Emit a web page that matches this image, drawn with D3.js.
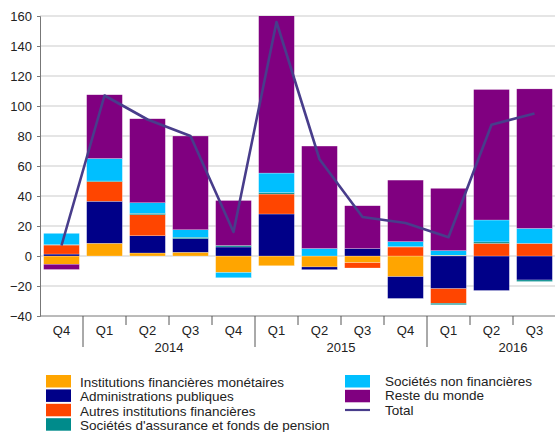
<!DOCTYPE html>
<html>
<head>
<meta charset="utf-8">
<script src="https://cdnjs.cloudflare.com/ajax/libs/d3/7.8.5/d3.min.js"></script>
<style>
  body { margin: 0; background: #fff; }
  text { font-family: "Liberation Sans", Arial, sans-serif; fill: #222; }
</style>
</head>
<body>
<svg width="555" height="432"></svg>
<script>
// quarters shown on the x axis (Q4 2013 .. Q3 2016)
var quarters = ["Q4", "Q1", "Q2", "Q3", "Q4", "Q1", "Q2", "Q3", "Q4", "Q1", "Q2", "Q3"];
var years = ["2014", "2015", "2016"];
var yearStart = [1, 5, 9]; // index of Q1 of each year

var seriesNames = [
    "Institutions financières monétaires",
    "Administrations publiques",
    "Autres institutions financières",
    "Sociétés d'assurance et fonds de pension",
    "Sociétés non financières",
    "Reste du monde"
];
var colors = ["#ffa500", "#000088", "#ff4500", "#008b8b", "#00bfff", "#800080"];

// values per series, one per quarter
var ifm  = [-5.5, 8.5, 2, 2.5, -11, -6.5, -7.3, -4.5, -13.8, 0.5, 0, 0];
var apu  = [1.3, 28, 11.5, 9, 6, 28, -1.8, 5, -14.5, -21.8, -23, -16];
var aif  = [6, 13, 14, 0, 0, 13.3, 0, -3.5, 6, -9.7, 8.4, 8.4];
var safp = [0.3, 0.5, 1, 1, 1, 1, 0, 0, 0.3, -1, 1, -1];
var snf  = [7.5, 15, 7, 5, -3.5, 13, 5, 0, 3.3, 3.1, 14.6, 10];
var rdm  = [-3.5, 42.5, 56, 62.5, 30, 105, 68.3, 28.5, 41, 41.5, 87, 93];
var total = [7, 107, 91, 80, 16, 156, 64.5, 26, 22, 12.5, 87.5, 95];

var yTicks = [-40, -20, 0, 20, 40, 60, 80, 100, 120, 140, 160];

var svg = d3.select("svg");
var pLeft = 40, pRight = 556, pTop = 16, pBottom = 316;

var rows = quarters.map(function(q, i) {
    return { i: i, ifm: ifm[i], apu: apu[i], aif: aif[i], safp: safp[i], snf: snf[i], rdm: rdm[i] };
});
var keys = ["ifm", "apu", "aif", "safp", "snf", "rdm"];

var x = d3.scaleBand()
    .domain(d3.range(quarters.length))
    .range([pLeft, pRight])
    .paddingInner(0.17)
    .paddingOuter(0.085);

var y = d3.scaleLinear().domain([-40, 160]).range([pBottom, pTop]);

// gridlines
svg.append("g")
    .selectAll("line")
    .data(yTicks.filter(function(d) { return d > -40; }))
    .join("line")
    .attr("x1", pLeft).attr("x2", pRight)
    .attr("y1", function(d) { return y(d); })
    .attr("y2", function(d) { return y(d); })
    .attr("stroke", "#dcdcdc")
    .attr("stroke-width", 1.5);

// y axis
var yAxis = svg.append("g")
    .attr("transform", "translate(" + pLeft + ",0)")
    .call(d3.axisLeft(y).tickValues(yTicks).tickSize(3).tickPadding(5));
yAxis.select(".domain").attr("stroke", "#777");
yAxis.selectAll(".tick line").attr("stroke", "#777");
yAxis.selectAll("text").attr("font-size", 13).attr("fill", "#222")
    .attr("font-family", "Liberation Sans, Arial, sans-serif");

svg.append("defs").append("clipPath").attr("id", "clip")
    .append("rect").attr("x", pLeft).attr("y", pTop)
    .attr("width", pRight - pLeft).attr("height", pBottom - pTop);

// stacked bars
var stack = d3.stack().keys(keys).offset(d3.stackOffsetDiverging);
var stacked = stack(rows);

svg.append("g")
    .attr("clip-path", "url(#clip)")
    .selectAll("g")
    .data(stacked)
    .join("g")
    .attr("fill", function(d, k) { return colors[k]; })
    .selectAll("rect")
    .data(function(d) { return d; })
    .join("rect")
    .attr("x", function(d) { return x(d.data.i); })
    .attr("width", x.bandwidth())
    .attr("y", function(d) { return y(Math.max(d[0], d[1])); })
    .attr("height", function(d) { return Math.abs(y(d[0]) - y(d[1])); })
    .attr("stroke", "#fff")
    .attr("stroke-width", 0.4)
    .attr("stroke-opacity", 0.6);

// total line
var line = d3.line()
    .x(function(d, i) { return x(i) + x.bandwidth() / 2; })
    .y(function(d) { return y(d); });

svg.append("path")
    .datum(total)
    .attr("fill", "none")
    .attr("stroke", "#483d8b")
    .attr("stroke-width", 2.6)
    .attr("stroke-linejoin", "round")
    .attr("d", line);

// x axis
var xa = svg.append("g");
xa.append("line")
    .attr("x1", pLeft).attr("x2", pRight)
    .attr("y1", pBottom).attr("y2", pBottom)
    .attr("stroke", "#777").attr("stroke-width", 1);

var step = x.step();
xa.selectAll(".sep")
    .data(d3.range(1, quarters.length))
    .join("line")
    .attr("x1", function(i) { return pLeft + i * step; })
    .attr("x2", function(i) { return pLeft + i * step; })
    .attr("y1", pBottom)
    .attr("y2", function(i) { return yearStart.indexOf(i) >= 0 ? pBottom + 31 : pBottom + 9; })
    .attr("stroke", "#555").attr("stroke-width", 1);

xa.selectAll(".ql")
    .data(quarters)
    .join("text")
    .attr("x", function(d, i) { return x(i) + x.bandwidth() / 2; })
    .attr("y", pBottom + 19)
    .attr("text-anchor", "middle")
    .attr("font-size", 13)
    .text(function(d) { return d; });

xa.selectAll(".yl")
    .data(years)
    .join("text")
    .attr("x", function(d, k) { return pLeft + (yearStart[k] + 2) * step; })
    .attr("y", pBottom + 36)
    .attr("text-anchor", "middle")
    .attr("font-size", 13)
    .text(function(d) { return d; });

// legend
var legend = svg.append("g");
var col1 = [0, 1, 2, 3], col2 = [4, 5];
col1.forEach(function(k, r) {
    legend.append("rect")
        .attr("x", 46).attr("y", 375 + r * 14.4)
        .attr("width", 25).attr("height", 12.5)
        .attr("fill", colors[k]);
    legend.append("text")
        .attr("x", 80).attr("y", 387 + r * 14.4)
        .attr("font-size", 13.5)
        .text(seriesNames[k]);
});
col2.forEach(function(k, r) {
    legend.append("rect")
        .attr("x", 345).attr("y", 375 + r * 14.8)
        .attr("width", 25).attr("height", 12.5)
        .attr("fill", colors[k]);
    legend.append("text")
        .attr("x", 385).attr("y", 385.5 + r * 14.5)
        .attr("font-size", 13.5)
        .text(seriesNames[k]);
});
legend.append("line")
    .attr("x1", 345).attr("x2", 370)
    .attr("y1", 410).attr("y2", 410)
    .attr("stroke", "#483d8b").attr("stroke-width", 2.2);
legend.append("text")
    .attr("x", 385).attr("y", 414.5)
    .attr("font-size", 13.5)
    .text("Total");
</script>
</body>
</html>
